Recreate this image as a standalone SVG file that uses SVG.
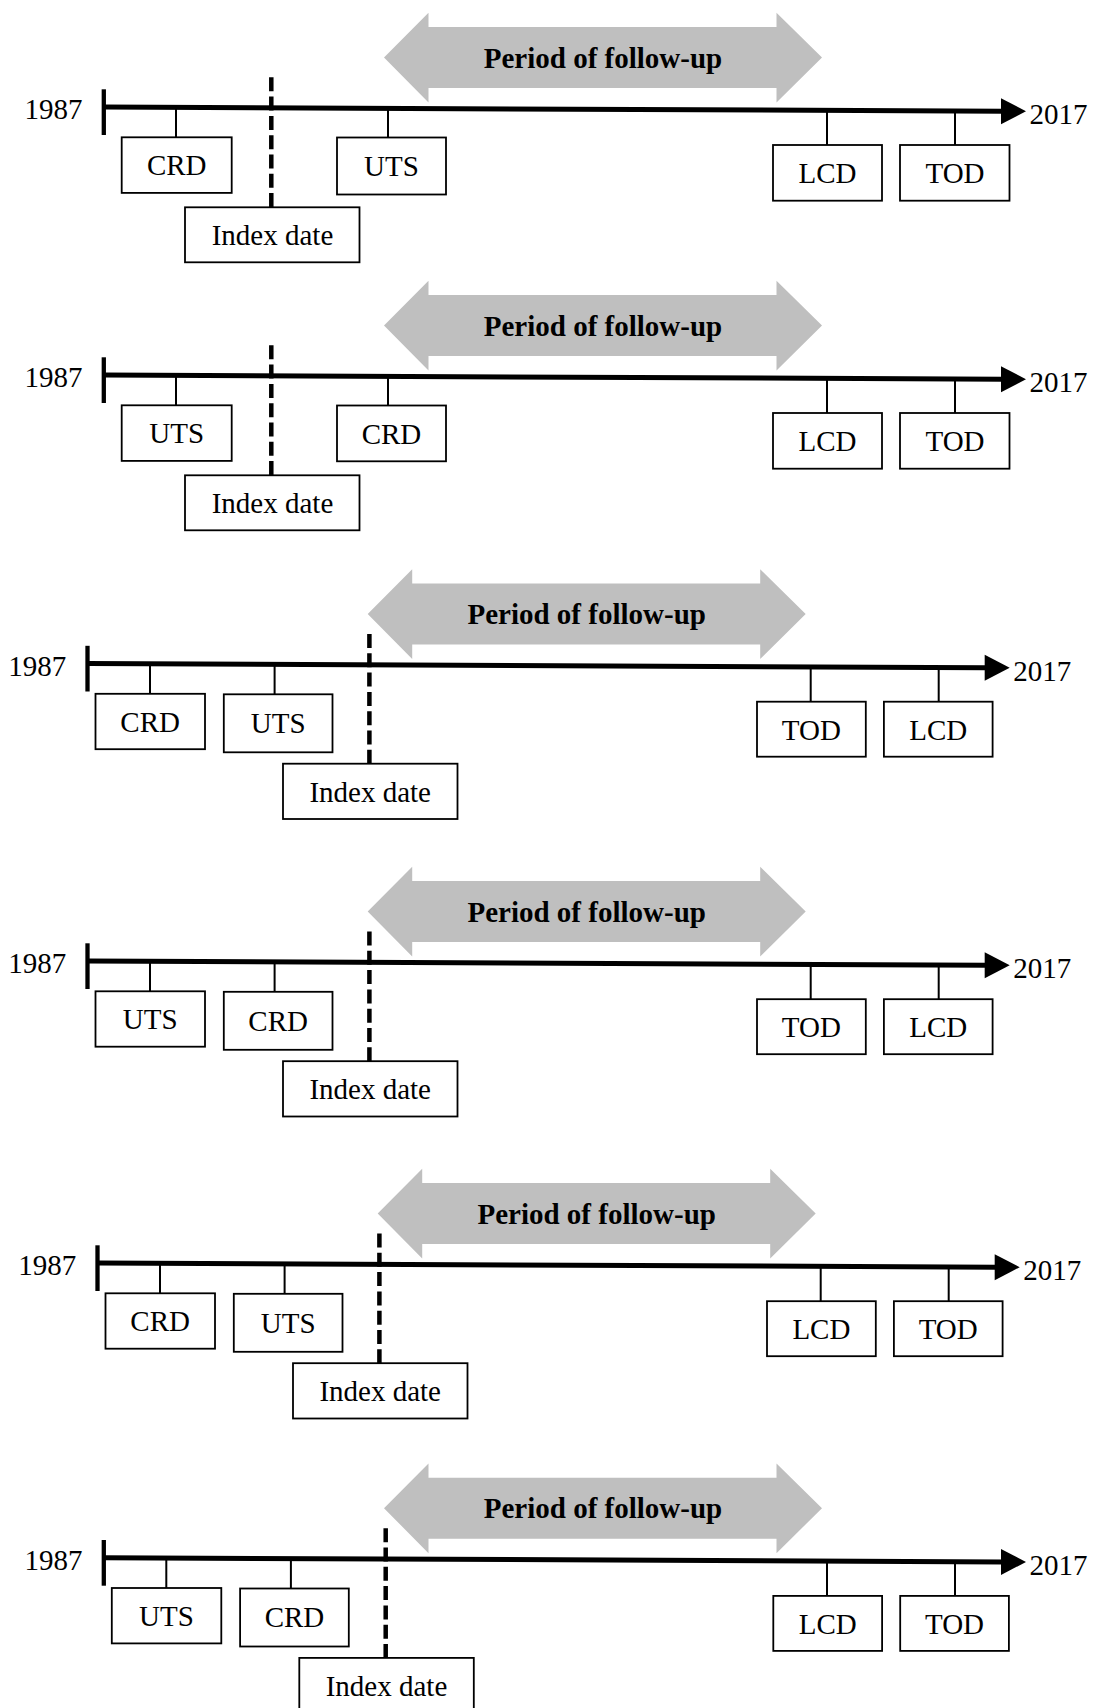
<svg xmlns="http://www.w3.org/2000/svg" width="1093" height="1708" viewBox="0 0 1093 1708">
<style>
.bg{fill:#ffffff}
.fu{fill:#bfbfbf;stroke:none}
.fut{font-family:"Liberation Serif","Times New Roman",serif;font-size:29px;font-weight:bold;fill:#000;text-anchor:middle}
.t{font-family:"Liberation Serif","Times New Roman",serif;font-size:29px;fill:#000}
.c{text-anchor:middle}
.e{text-anchor:end}
.tl{stroke:#000;stroke-width:5;fill:none}
.tick{stroke:#000;stroke-width:4.3}
.ah{fill:#000}
.con{stroke:#000;stroke-width:2;fill:none}
.box{fill:#fff;stroke:#000;stroke-width:1.8}
.dash{stroke:#000;stroke-width:4.5;stroke-dasharray:14 5.3;fill:none}
</style>
<defs>
<g id="frame">
<polygon class="fu" points="384,57.5 428.5,12.7 428.5,27 776.5,27 776.5,12.7 822,57.5 776.5,102.5 776.5,88 428.5,88 428.5,102.5"/>
<text class="fut" x="603" y="67.5">Period of follow-up</text>
<line class="tick" x1="103.8" y1="89.3" x2="103.8" y2="135"/>
<line class="tl" x1="104" y1="107" x2="1003" y2="111.2"/>
<polygon class="ah" points="1001,98.3 1026,111.2 1001,124.3"/>
<text class="t e" x="82.5" y="119.3">1987</text>
<text class="t" x="1029.5" y="124.2">2017</text>
</g>
</defs>
<rect class="bg" x="0" y="0" width="1093" height="1708"/>

<!-- Panel 1 -->
<g id="panel1" transform="translate(0,0)">
<use href="#frame"/>
<g id="p1-connectors">
<line class="con" x1="176" y1="107.6" x2="176" y2="137.3"/>
<line class="con" x1="388" y1="108.5" x2="388" y2="137.5"/>
<line class="con" x1="827" y1="110.4" x2="827" y2="145"/>
<line class="con" x1="955" y1="111" x2="955" y2="145"/>
<line class="dash" x1="271.3" y1="77.3" x2="271.3" y2="207.3"/>
</g>
<g id="p1-crd"><rect class="box" x="121.7" y="137.3" width="110" height="55.6"/><text class="t c" x="176.7" y="175">CRD</text></g>
<g id="p1-uts"><rect class="box" x="337" y="137.5" width="109" height="57"/><text class="t c" x="391.5" y="176">UTS</text></g>
<g id="p1-index"><rect class="box" x="185" y="207.3" width="174.5" height="55"/><text class="t c" x="272.5" y="245">Index date</text></g>
<g id="p1-lcd"><rect class="box" x="773" y="145" width="109" height="55.7"/><text class="t c" x="827.5" y="183.3">LCD</text></g>
<g id="p1-tod"><rect class="box" x="900" y="145" width="109.5" height="55.7"/><text class="t c" x="955" y="183.3">TOD</text></g>
</g>

<!-- Panel 2 -->
<g id="panel2" transform="translate(0,268)">
<use href="#frame"/>
<g id="p2-connectors">
<line class="con" x1="176" y1="107.6" x2="176" y2="137.3"/>
<line class="con" x1="388" y1="108.5" x2="388" y2="137.5"/>
<line class="con" x1="827" y1="110.4" x2="827" y2="145"/>
<line class="con" x1="955" y1="111" x2="955" y2="145"/>
<line class="dash" x1="271.3" y1="77.3" x2="271.3" y2="207.3"/>
</g>
<g id="p2-uts"><rect class="box" x="121.7" y="137.3" width="110" height="55.6"/><text class="t c" x="176.7" y="175">UTS</text></g>
<g id="p2-crd"><rect class="box" x="337" y="137.5" width="109" height="55.8"/><text class="t c" x="391.5" y="176">CRD</text></g>
<g id="p2-index"><rect class="box" x="185" y="207.3" width="174.5" height="55"/><text class="t c" x="272.5" y="245">Index date</text></g>
<g id="p2-lcd"><rect class="box" x="773" y="145" width="109" height="55.7"/><text class="t c" x="827.5" y="183.3">LCD</text></g>
<g id="p2-tod"><rect class="box" x="900" y="145" width="109.5" height="55.7"/><text class="t c" x="955" y="183.3">TOD</text></g>
</g>

<!-- Panel 3 -->
<g id="panel3" transform="translate(-16.3,556.5)">
<use href="#frame"/>
<g id="p3-connectors">
<line class="con" x1="166.3" y1="107.6" x2="166.3" y2="137.3"/>
<line class="con" x1="290.9" y1="108.1" x2="290.9" y2="137.8"/>
<line class="con" x1="827" y1="110.4" x2="827" y2="145"/>
<line class="con" x1="955" y1="111" x2="955" y2="145"/>
<line class="dash" x1="385.7" y1="77.5" x2="385.7" y2="207.2"/>
</g>
<g id="p3-crd"><rect class="box" x="111.8" y="137.3" width="109.5" height="55.4"/><text class="t c" x="166.5" y="175">CRD</text></g>
<g id="p3-uts"><rect class="box" x="240.1" y="137.8" width="108.7" height="58"/><text class="t c" x="294.5" y="176.5">UTS</text></g>
<g id="p3-index"><rect class="box" x="299.3" y="207.2" width="174.5" height="55.3"/><text class="t c" x="386.5" y="245">Index date</text></g>
<g id="p3-tod"><rect class="box" x="773.3" y="145.2" width="108.8" height="55"/><text class="t c" x="827.7" y="183.3">TOD</text></g>
<g id="p3-lcd"><rect class="box" x="900.2" y="145.2" width="108.7" height="55"/><text class="t c" x="954.5" y="183.3">LCD</text></g>
</g>

<!-- Panel 4 -->
<g id="panel4" transform="translate(-16.3,854)">
<use href="#frame"/>
<g id="p4-connectors">
<line class="con" x1="166.3" y1="107.6" x2="166.3" y2="137.3"/>
<line class="con" x1="290.9" y1="108.1" x2="290.9" y2="137.8"/>
<line class="con" x1="827" y1="110.4" x2="827" y2="145"/>
<line class="con" x1="955" y1="111" x2="955" y2="145"/>
<line class="dash" x1="385.7" y1="77.5" x2="385.7" y2="207.2"/>
</g>
<g id="p4-uts"><rect class="box" x="111.8" y="137.3" width="109.5" height="55.4"/><text class="t c" x="166.5" y="175">UTS</text></g>
<g id="p4-crd"><rect class="box" x="240.1" y="137.8" width="108.7" height="58"/><text class="t c" x="294.5" y="176.5">CRD</text></g>
<g id="p4-index"><rect class="box" x="299.3" y="207.2" width="174.5" height="55.3"/><text class="t c" x="386.5" y="245">Index date</text></g>
<g id="p4-tod"><rect class="box" x="773.3" y="145.2" width="108.8" height="55"/><text class="t c" x="827.7" y="183.3">TOD</text></g>
<g id="p4-lcd"><rect class="box" x="900.2" y="145.2" width="108.7" height="55"/><text class="t c" x="954.5" y="183.3">LCD</text></g>
</g>

<!-- Panel 5 -->
<g id="panel5" transform="translate(-6.3,1156)">
<use href="#frame"/>
<g id="p5-connectors">
<line class="con" x1="166.3" y1="107.6" x2="166.3" y2="137.3"/>
<line class="con" x1="290.9" y1="108.1" x2="290.9" y2="137.8"/>
<line class="con" x1="827" y1="110.4" x2="827" y2="145"/>
<line class="con" x1="955" y1="111" x2="955" y2="145"/>
<line class="dash" x1="385.7" y1="77.5" x2="385.7" y2="207.2"/>
</g>
<g id="p5-crd"><rect class="box" x="111.8" y="137.3" width="109.5" height="55.4"/><text class="t c" x="166.5" y="175">CRD</text></g>
<g id="p5-uts"><rect class="box" x="240.1" y="137.8" width="108.7" height="58"/><text class="t c" x="294.5" y="176.5">UTS</text></g>
<g id="p5-index"><rect class="box" x="299.3" y="207.2" width="174.5" height="55.3"/><text class="t c" x="386.5" y="245">Index date</text></g>
<g id="p5-lcd"><rect class="box" x="773.3" y="145.2" width="108.8" height="55"/><text class="t c" x="827.7" y="183.3">LCD</text></g>
<g id="p5-tod"><rect class="box" x="900.2" y="145.2" width="108.7" height="55"/><text class="t c" x="954.5" y="183.3">TOD</text></g>
</g>

<!-- Panel 6 -->
<g id="panel6" transform="translate(0,1450.7)">
<use href="#frame"/>
<g id="p6-connectors">
<line class="con" x1="166.3" y1="107.6" x2="166.3" y2="137.3"/>
<line class="con" x1="290.9" y1="108.1" x2="290.9" y2="137.8"/>
<line class="con" x1="827" y1="110.4" x2="827" y2="145"/>
<line class="con" x1="955" y1="111" x2="955" y2="145"/>
<line class="dash" x1="385.7" y1="77.5" x2="385.7" y2="207.2"/>
</g>
<g id="p6-uts"><rect class="box" x="111.8" y="137.3" width="109.5" height="55.4"/><text class="t c" x="166.5" y="175">UTS</text></g>
<g id="p6-crd"><rect class="box" x="240.1" y="137.8" width="108.7" height="58"/><text class="t c" x="294.5" y="176.5">CRD</text></g>
<g id="p6-index"><rect class="box" x="299.3" y="207.2" width="174.5" height="55.3"/><text class="t c" x="386.5" y="245">Index date</text></g>
<g id="p6-lcd"><rect class="box" x="773.3" y="145.2" width="108.8" height="55"/><text class="t c" x="827.7" y="183.3">LCD</text></g>
<g id="p6-tod"><rect class="box" x="900.2" y="145.2" width="108.7" height="55"/><text class="t c" x="954.5" y="183.3">TOD</text></g>
</g>
</svg>
